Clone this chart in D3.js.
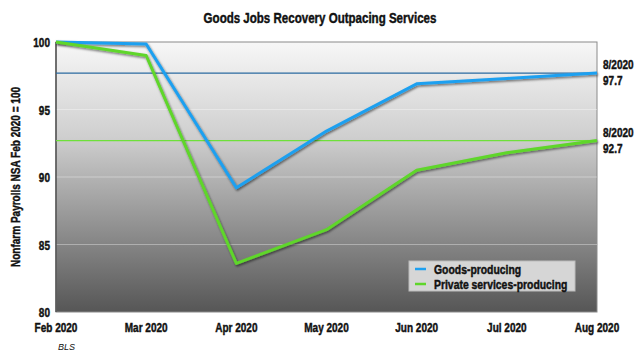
<!DOCTYPE html>
<html lang="en">
<head>
<meta charset="UTF-8">
<title>Goods Jobs Recovery Outpacing Services</title>
<script src="https://d3js.org/d3.v7.min.js"></script>
<style>
    body { margin: 0; background: #fff; }
    text { font-family: "Liberation Sans", Arial, sans-serif; font-weight: bold; fill: #111; }
    .heavy { stroke: #111; stroke-width: 0.45px; }
</style>
</head>
<body>
<div id="chart"></div>
<script>
    const months = ["Feb 2020", "Mar 2020", "Apr 2020", "May 2020", "Jun 2020", "Jul 2020", "Aug 2020"];
    const goods = [100, 99.85, 89.2, 93.4, 96.9, 97.3, 97.7];
    const services = [100, 99.0, 83.6, 86.1, 90.5, 91.8, 92.7];
    const yTicks = [80, 85, 90, 95, 100];
    const seriesNames = ["Goods-producing", "Private services-producing"];
    const seriesColors = ["#1ea0f0", "#5fd62a"];

    const width = 640, height = 364;
    const margin = { top: 42, right: 43, bottom: 52, left: 56 };
    const iw = width - margin.left - margin.right;
    const ih = height - margin.top - margin.bottom;
    const sx = 0.77; // squeeze text horizontally to mimic a condensed face

    const svg = d3.select("#chart").append("svg")
        .attr("width", width).attr("height", height);

    // condensed text helper
    function ctext(parent, x, y, str, size, anchor, rot, scale) {
        const gg = parent.append("g")
            .attr("transform", `translate(${x},${y})` + (rot ? ` rotate(${rot})` : "") + ` scale(${scale || sx},1)`);
        return gg.append("text")
            .attr("class", "heavy")
            .attr("text-anchor", anchor || "start")
            .style("font-size", size + "px")
            .text(str);
    }

    const defs = svg.append("defs");
    const grad = defs.append("linearGradient").attr("id", "bg")
        .attr("x1", 0).attr("y1", 0).attr("x2", 0).attr("y2", 1);
    grad.append("stop").attr("offset", "0%").attr("stop-color", "#f7f7f7");
    grad.append("stop").attr("offset", "35%").attr("stop-color", "#cfcfcf");
    grad.append("stop").attr("offset", "100%").attr("stop-color", "#565656");

    const shadow = defs.append("filter").attr("id", "shadow")
        .attr("x", "-10%").attr("y", "-10%").attr("width", "120%").attr("height", "120%");
    shadow.append("feDropShadow").attr("dx", 1).attr("dy", 1.5)
        .attr("stdDeviation", 0.8).attr("flood-color", "#000").attr("flood-opacity", 0.55);

    const x = d3.scalePoint().domain(months).range([0, iw]);
    const y = d3.scaleLinear().domain([80, 100]).range([ih, 0]);

    ctext(svg, width / 2, 23, "Goods Jobs Recovery Outpacing Services", 15, "middle");

    const g = svg.append("g").attr("transform", `translate(${margin.left},${margin.top})`);

    g.append("rect").attr("width", iw).attr("height", ih)
        .attr("fill", "url(#bg)").attr("stroke", "#8a8a8a").attr("stroke-width", 1);

    // gridlines
    g.selectAll(".grid").data(yTicks.filter(t => t > 80 && t < 100)).enter()
        .append("line")
        .attr("x1", 0).attr("x2", iw)
        .attr("y1", d => y(d)).attr("y2", d => y(d))
        .attr("stroke", "#ffffff").attr("stroke-opacity", 0.35).attr("stroke-width", 1);

    // left axis edge
    g.append("line").attr("x1", 0).attr("x2", 0).attr("y1", 0).attr("y2", ih)
        .attr("stroke", "#555").attr("stroke-width", 1.5);

    // y tick labels
    yTicks.forEach(t => ctext(g, -6, y(t) + 5, t, 13, "end"));

    // x tick labels
    months.forEach(m => ctext(g, x(m), ih + 20, m, 13, "middle"));

    // y axis title
    ctext(svg, 20, margin.top + ih / 2, "Nonfarm Payrolls NSA Feb 2020 = 100", 13, "middle", -90);

    // reference lines at latest values
    const latest = [goods[goods.length - 1], services[services.length - 1]];
    g.selectAll(".ref").data(latest).enter().append("line")
        .attr("x1", 0).attr("x2", iw)
        .attr("y1", d => y(d)).attr("y2", d => y(d))
        .attr("stroke", (d, i) => i === 0 ? "#2a6aa0" : "#6ee03a")
        .attr("stroke-width", 1.2);

    const line = d3.line().x((d, i) => x(months[i])).y(d => y(d));
    [goods, services].forEach((s, i) => {
        g.append("path").datum(s)
            .attr("d", line)
            .attr("fill", "none")
            .attr("stroke", seriesColors[i])
            .attr("stroke-width", 3)
            .attr("stroke-linejoin", "round")
            .attr("filter", "url(#shadow)");
    });

    // right labels
    latest.forEach(v => {
        ctext(g, iw + 6, y(v) - 4, "8/2020", 13, "start");
        ctext(g, iw + 6, y(v) + 12, v.toFixed(1), 13, "start");
    });

    // legend
    const lg = g.append("g").attr("transform", `translate(${409 - margin.left},${261 - margin.top})`);
    lg.append("rect").attr("width", 166).attr("height", 30)
        .attr("fill", "#d6d6d6").attr("stroke", "#bcbcbc");
    seriesNames.forEach((n, i) => {
        lg.append("line").attr("x1", 6).attr("x2", 17)
            .attr("y1", 8 + i * 15).attr("y2", 8 + i * 15)
            .attr("stroke", seriesColors[i]).attr("stroke-width", 2.5);
        ctext(lg, 25, 8 + i * 15 + 4.5, n, 13, "start", 0, 0.8);
    });

    svg.append("text")
        .attr("x", 58).attr("y", 350)
        .style("font-size", "9px").style("font-style", "italic").style("font-weight", "normal")
        .text("BLS");
</script>
</body>
</html>
